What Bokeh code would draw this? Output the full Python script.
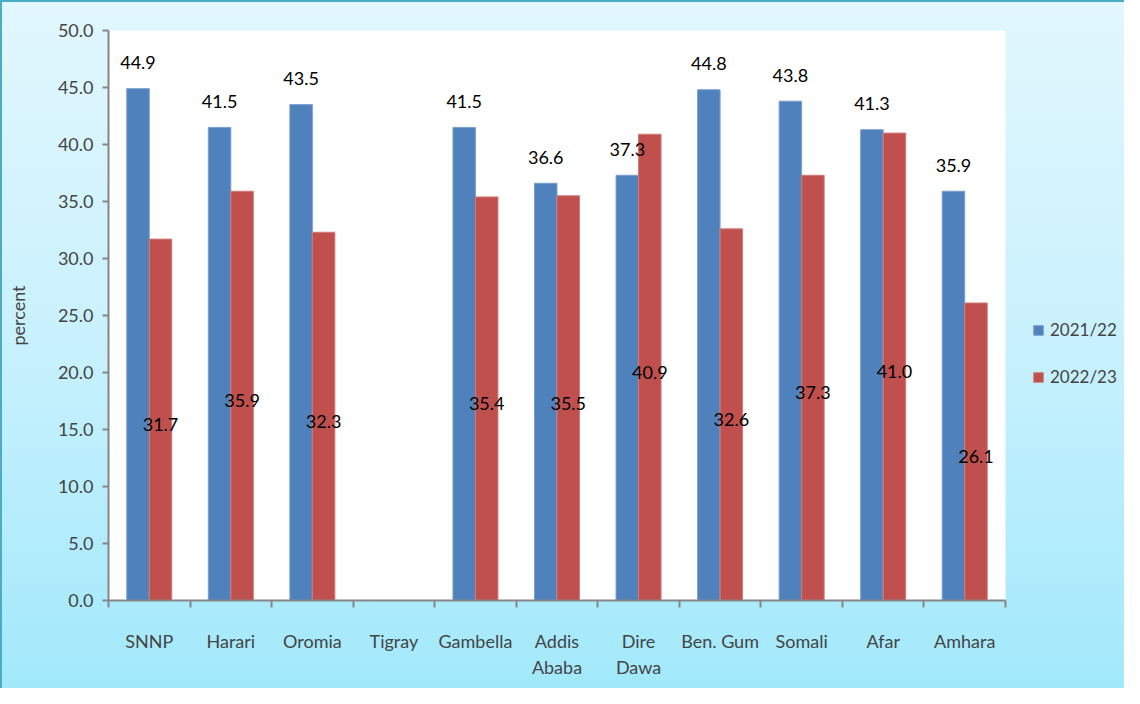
from bokeh.plotting import figure
from bokeh.models import (Range1d, ColumnDataSource, LabelSet, Legend, LegendItem,
                          LinearAxis, FixedTicker, NumeralTickFormatter, BoxAnnotation)
from bokeh.core.properties import value
from bokeh.transform import dodge
from bokeh.embed import file_html
from bokeh.resources import INLINE
import math

regions = ["SNNP", "Harari", "Oromia", "Tigray", "Gambella", "Addis\nAbaba", "Dire\nDawa",
           "Ben. Gum", "Somali", "Afar", "Amhara"]
y2122 = [44.9, 41.5, 43.5, float("nan"), 41.5, 36.6, 37.3, 44.8, 43.8, 41.3, 35.9]
y2223 = [31.7, 35.9, 32.3, float("nan"), 35.4, 35.5, 40.9, 32.6, 37.3, 41.0, 26.1]
series = ["2021/22", "2022/23"]
colors = ["#4F81BD", "#C0504D"]
y_ticks = [0, 5, 10, 15, 20, 25, 30, 35, 40, 45, 50]

FONT = "Lato"
FS = "18px"
W, H = 1124, 688
n = len(regions)
LEFT = 108
PLOT_W = 897                      # width of the white plotting area in px
FRAME_W = W - LEFT                 # frame extends to the right edge (legend lives there)
x_end = n * FRAME_W / PLOT_W

def fmt(v):
    return "" if (v is None or (isinstance(v, float) and math.isnan(v))) else f"{v:.1f}"

centers = [i + 0.5 for i in range(n)]
src = ColumnDataSource(dict(
    x=centers,
    a=y2122, b=y2223,
    a_lab=[fmt(v) for v in y2122], b_lab=[fmt(v) for v in y2223],
    b_mid=[(v / 2 if not math.isnan(v) else float("nan")) for v in y2223],
))

p = figure(width=W, height=H, x_range=Range1d(0, x_end), y_range=Range1d(0, 50),
           output_backend="svg", toolbar_location=None, x_axis_location=None, y_axis_location=None,
           min_border_left=LEFT, min_border_right=0, min_border_top=30, min_border_bottom=88)
p.border_fill_color = None
p.background_fill_color = None
p.outline_line_color = None
p.xgrid.grid_line_color = None
p.ygrid.grid_line_color = None
p.styles = {
    "background-image": "linear-gradient(to bottom, #E2F7FE 0%, #C8F1FD 50%, #A2E9FC 100%)",
    "box-shadow": "inset 2px 2px 0 0 #4BACC6",
}

# white plotting area only over the categories
p.add_layout(BoxAnnotation(left=0, right=n, bottom=0, top=50, fill_color="white", fill_alpha=1,
                           line_color=None, level="underlay"))

bw = 0.276
r1 = p.vbar(x=dodge("x", -bw / 2), top="a", width=bw, source=src,
            fill_color=colors[0], line_color="#7A9FD0", line_width=1)
r2 = p.vbar(x=dodge("x", bw / 2), top="b", width=bw, source=src,
            fill_color=colors[1], line_color="#D27A78", line_width=1)

lab1 = LabelSet(x=dodge("x", -bw / 2), y="a", text="a_lab", source=src,
                text_align="center", text_baseline="middle", y_offset=26,
                text_font=value(FONT), text_font_size=value(FS), text_color="black")
lab2 = LabelSet(x=dodge("x", bw / 2), y="b_mid", text="b_lab", source=src,
                text_align="center", text_baseline="middle", y_offset=-5,
                text_font=value(FONT), text_font_size=value(FS), text_color="black")
p.add_layout(lab1)
p.add_layout(lab2)

axis_col = "#868686"
yax = LinearAxis(ticker=FixedTicker(ticks=y_ticks), formatter=NumeralTickFormatter(format="0.0"),
                 axis_line_color=axis_col, axis_line_width=2, major_tick_line_color=axis_col,
                 major_tick_line_width=2,
                 major_tick_in=0, major_tick_out=6, minor_tick_line_color=None,
                 major_label_text_font=FONT, major_label_text_font_size=FS,
                 major_label_standoff=9, axis_label="percent",
                 axis_label_text_font=FONT, axis_label_text_font_size="18px",
                 axis_label_text_font_style="normal", axis_label_standoff=26)
p.add_layout(yax, "left")

tick_ax = LinearAxis(ticker=FixedTicker(ticks=list(range(n + 1))), bounds=(0, n),
                     axis_line_color=axis_col, axis_line_width=2, major_tick_line_color=axis_col,
                     major_tick_line_width=2,
                     major_tick_in=0, major_tick_out=7, minor_tick_line_color=None,
                     major_label_text_font_size="0px", major_label_text_alpha=0,
                     major_label_standoff=0)
p.add_layout(tick_ax, "below")

cat_ax = LinearAxis(ticker=FixedTicker(ticks=centers), bounds=(0, n),
                    major_label_overrides={c: r for c, r in zip(centers, regions)},
                    axis_line_color=None, major_tick_line_color=None, minor_tick_line_color=None,
                    major_label_text_font=FONT, major_label_text_font_size=FS,
                    major_label_standoff=16, major_label_orientation="horizontal")
p.add_layout(cat_ax, "below")

legend = Legend(items=[LegendItem(label=series[0], renderers=[r1]),
                       LegendItem(label=series[1], renderers=[r2])],
                location=(924, 213), orientation="vertical",
                background_fill_alpha=0, border_line_color=None,
                label_text_font=FONT, label_text_font_size="17px",
                glyph_width=12, glyph_height=12, spacing=26, label_standoff=6,
                padding=0, margin=0)
p.add_layout(legend)

open("out.html", "w").write(file_html(p, INLINE))
